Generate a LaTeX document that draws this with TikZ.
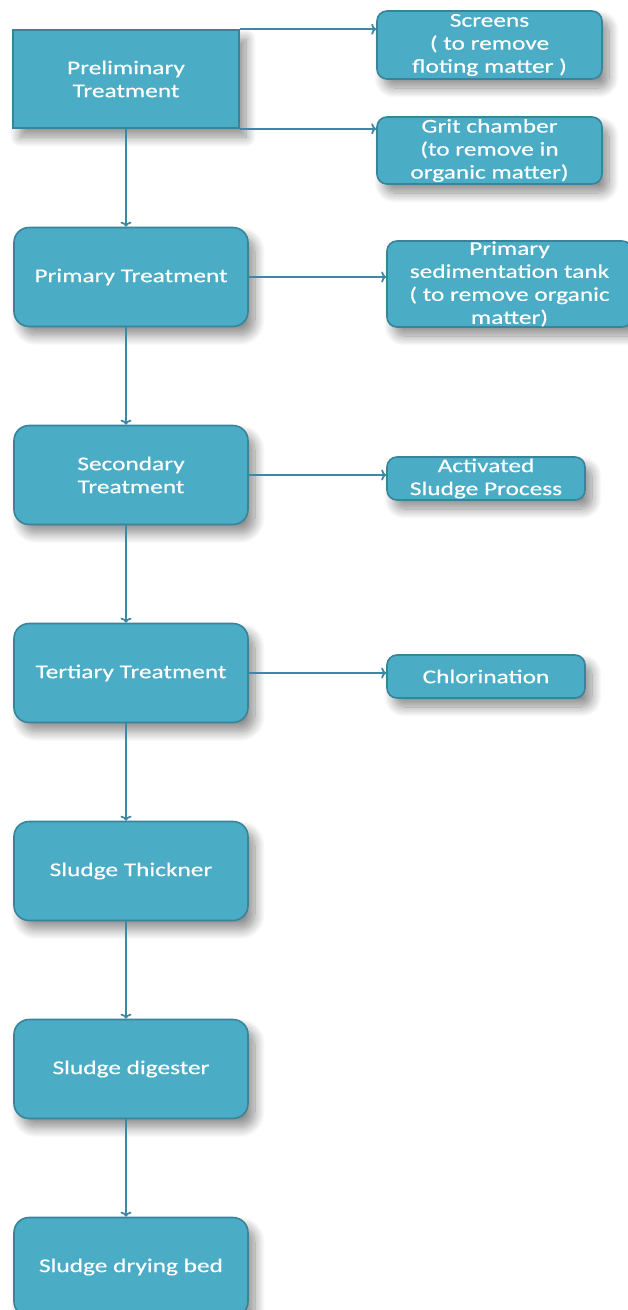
\documentclass[tikz,border=0pt]{standalone}
\usepackage{fontspec}
\setmainfont[FakeStretch=1.3,FakeBold=0.35]{Carlito}
\usetikzlibrary{arrows.meta,shadows.blur}
\definecolor{boxfill}{RGB}{75,172,198}
\definecolor{boxdraw}{RGB}{56,132,155}
\definecolor{arrowc}{RGB}{62,136,163}
\tikzset{
  base/.style={draw=boxdraw, line width=1.6pt, fill=boxfill, text=white, align=center,
    font=\fontsize{19.5}{23}\selectfont, inner sep=0pt,
    blur shadow={shadow xshift=7pt, shadow yshift=-9pt, shadow blur radius=10pt, shadow blur steps=12, shadow opacity=45}},
  mainbox/.style={base, rounded corners=15pt, minimum width=234pt, minimum height=99pt},
  sidebox/.style={base, rounded corners=10pt},
  flow/.style={draw=arrowc, line width=1.8pt, -{To[length=5pt,width=11pt]}}
}
\begin{document}
\begin{tikzpicture}[x=1pt,y=-1pt]
\useasboundingbox (0,0) rectangle (627,1310);
% main column
\node[base, minimum width=226pt, minimum height=98pt] (prelim) at (126,79) {Preliminary\\Treatment};
\node[mainbox] (primary) at (131,277) {Primary Treatment};
\node[mainbox] (secondary) at (131,475) {Secondary\\Treatment};
\node[mainbox] (tertiary) at (131,673) {Tertiary Treatment};
\node[mainbox] (thick) at (131,871) {Sludge Thickner};
\node[mainbox] (digest) at (131,1069) {Sludge digester};
\node[mainbox] (dry) at (131,1267) {Sludge drying bed};
% side boxes
\node[sidebox, minimum width=225pt, minimum height=68pt] (screens) at (489.5,45) {Screens\\( to remove\\floting matter )};
\node[sidebox, minimum width=225pt, minimum height=67pt] (grit) at (489.5,150.5) {Grit chamber\\(to remove in\\organic matter)};
\node[sidebox, minimum width=245pt, minimum height=86pt] (sed) at (509.5,284) {Primary\\sedimentation tank\\( to remove organic\\matter)};
\node[sidebox, minimum width=198pt, minimum height=43pt] (act) at (486,478.5) {Activated\\Sludge Process};
\node[sidebox, minimum width=198pt, minimum height=43pt] (chlor) at (486,676.5) {Chlorination};
% vertical flow
\draw[flow] (prelim.south) -- (primary.north -| prelim.south);
\draw[flow] (primary.south -| prelim.south) -- (secondary.north -| prelim.south);
\draw[flow] (secondary.south -| prelim.south) -- (tertiary.north -| prelim.south);
\draw[flow] (tertiary.south -| prelim.south) -- (thick.north -| prelim.south);
\draw[flow] (thick.south -| prelim.south) -- (digest.north -| prelim.south);
\draw[flow] (digest.south -| prelim.south) -- (dry.north -| prelim.south);
% side flows
\draw[flow] (prelim.north east) -- (screens.west |- prelim.north east);
\draw[flow] (prelim.south east) -- (grit.west |- prelim.south east);
\draw[flow] (primary.east) -- (sed.west |- primary.east);
\draw[flow] (secondary.east) -- (act.west |- secondary.east);
\draw[flow] (tertiary.east) -- (chlor.west |- tertiary.east);
\end{tikzpicture}
\end{document}
